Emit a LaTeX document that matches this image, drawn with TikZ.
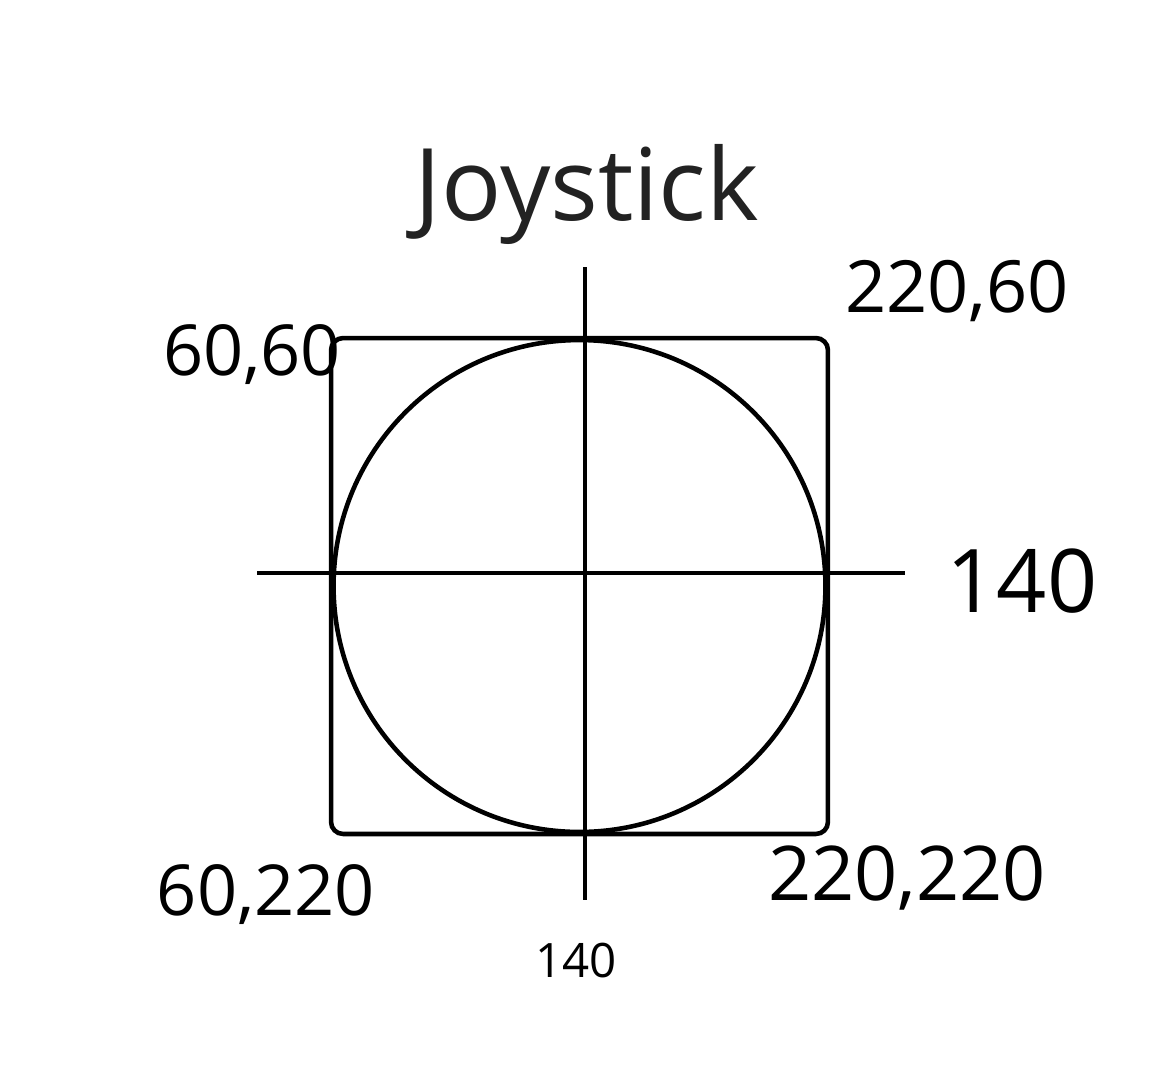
\documentclass[tikz,border=0pt]{standalone}
\usepackage{fontspec}
\setmainfont{Open Sans}
\usepackage{tikz}
\usetikzlibrary{positioning}
\definecolor{inkgray}{RGB}{34, 34, 34}

\begin{document}
\begin{tikzpicture}[x=0.02cm, y=-0.02cm]
    \tikzstyle{stroke} = [draw=black, line width=2.6pt]
    \tikzstyle{hand} = [inner sep=0pt, anchor=base, text=black]

    \useasboundingbox (0,0) rectangle (1152,1079);

    % title
    \node[inner sep=0pt, anchor=base, text=inkgray, font=\fontsize{57}{60}\selectfont] (title) at (587, 220) {Joystick};

    % pad outline and travel circle
    \node[stroke, rounded corners=0.24cm, minimum width=9.94cm, minimum height=9.92cm, inner sep=0pt] (pad) at (579.5, 586) {};
    \node[stroke, circle, minimum size=9.84cm, inner sep=0pt] (travel) at (579.5, 586) {};

    % axes
    \coordinate (vtop) at (585, 267);
    \coordinate (vbot) at (585, 900);
    \coordinate (hleft) at (257, 573);
    \coordinate (hright) at (905, 573);
    \draw[stroke] (vtop) -- (vbot);
    \draw[stroke] (hleft) -- (hright);

    % corner values
    \node[hand, font=\fontsize{40}{44}\selectfont] (tl) at (252, 375) {60,60};
    \node[hand, font=\fontsize{41}{45}\selectfont] (tr) at (957, 312) {220,60};
    \node[hand, font=\fontsize{50}{54}\selectfont] (midr) at (1022, 612) {140};
    \node[hand, font=\fontsize{40}{44}\selectfont] (bl) at (266, 915) {60,220};
    \node[hand, font=\fontsize{43}{47}\selectfont] (br) at (907, 900) {220,220};
    \node[hand, font=\fontsize{27}{30}\selectfont] (midb) at (576, 977) {140};
\end{tikzpicture}
\end{document}
